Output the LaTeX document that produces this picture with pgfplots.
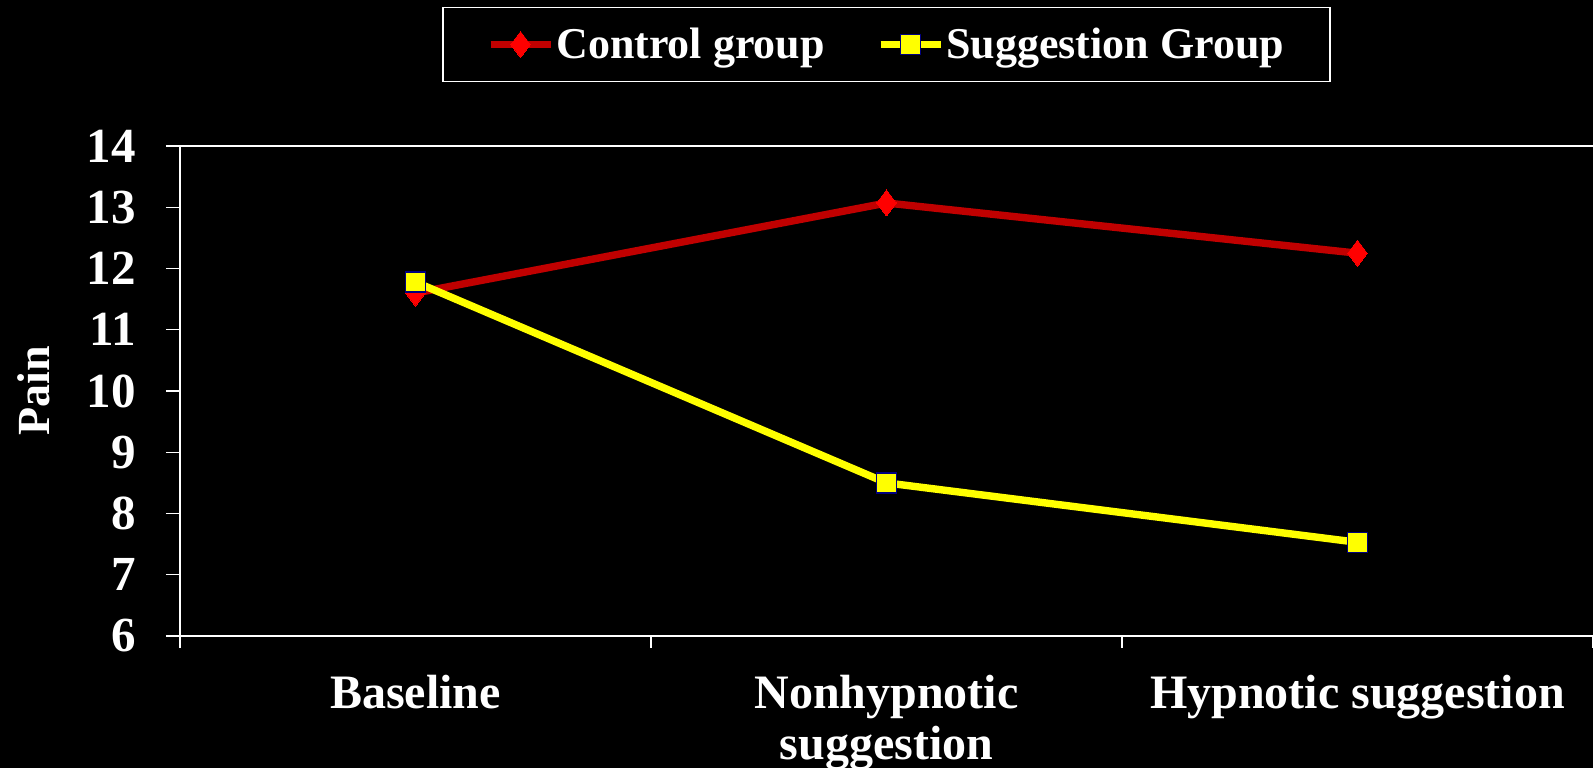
\documentclass[border=0pt]{standalone}
\usepackage{fontspec}
\setmainfont{Liberation Serif}
\usepackage{pgfplots}
\pgfplotsset{compat=1.18}
\definecolor{ctrl}{RGB}{192,0,0}
\definecolor{ctrlmark}{RGB}{255,0,0}
\definecolor{sugg}{RGB}{255,255,0}
\definecolor{navyb}{RGB}{0,0,128}
\begin{document}
\begin{tikzpicture}
\fill[black] (-90pt,-66pt) rectangle (706.5pt,318pt);
\begin{axis}[
  scale only axis, width=706.5pt, height=245pt,
  at={(0,0)}, anchor=south west,
  xmin=0, xmax=3, ymin=6, ymax=14,
  axis x line=box, axis y line=left,
  axis line style={white, line width=1pt, -},
  tick align=outside,
  xtick={0.5,1.5,2.5},
  xticklabels={Baseline,{Nonhypnotic\\suggestion},{Hypnotic suggestion}},
  minor xtick={0,1,2,3},
  major x tick style={draw=none},
  minor x tick style={white, line width=0.6pt},
  minor tick length=6pt,
  major tick length=7pt,
  ytick={6,7,...,14},
  y tick style={white, line width=0.6pt},
  xtick pos=bottom, ytick pos=left,
  /pgf/number format/assume math mode=true,
  tick label style={text=white},
  xticklabel style={align=center, anchor=north, inner sep=0pt, yshift=-12.5pt, font=\fontsize{24}{25.5}\selectfont\bfseries},
  yticklabel style={anchor=east, inner sep=0pt, xshift=-15pt, font=\fontsize{24.5}{26}\selectfont\bfseries},
  ylabel={Pain},
  ylabel style={at={(axis description cs:-0.1033,0.5)}, anchor=center, rotate=0, text=white, font=\fontsize{23}{26}\selectfont\bfseries},
  legend columns=2,
  legend style={at={(0.5,1)}, anchor=south, yshift=32pt, draw=white, line width=0.75pt, fill=black, text=white,
    font=\fontsize{22}{24}\selectfont\bfseries, inner xsep=22pt, inner ysep=9pt,
    /tikz/every even column/.append style={column sep=25pt},
    nodes={inner sep=1pt}},
  legend image code/.code={\draw[mark repeat=2,mark phase=2] plot coordinates {(0pt,0pt) (15pt,0pt) (30pt,0pt)};},
  clip=false,
]
\addplot[ctrl, line width=3.7pt, mark=diamond*, mark size=6.5pt, mark options={solid, fill=ctrlmark, draw=ctrlmark, line width=0pt}]
  coordinates {(0.5,11.6) (1.5,13.07) (2.5,12.25)};
\addlegendentry{Control group}
\addplot[sugg, line width=3.7pt, mark=square*, mark size=5pt, mark options={solid, fill=sugg, draw=navyb, line width=0.8pt}]
  coordinates {(0.5,11.78) (1.5,8.5) (2.5,7.53)};
\addlegendentry{Suggestion Group}
\end{axis}
\pgfresetboundingbox
\path[use as bounding box] (-90pt,-66pt) rectangle (706.5pt,318pt);
\end{tikzpicture}
\end{document}
